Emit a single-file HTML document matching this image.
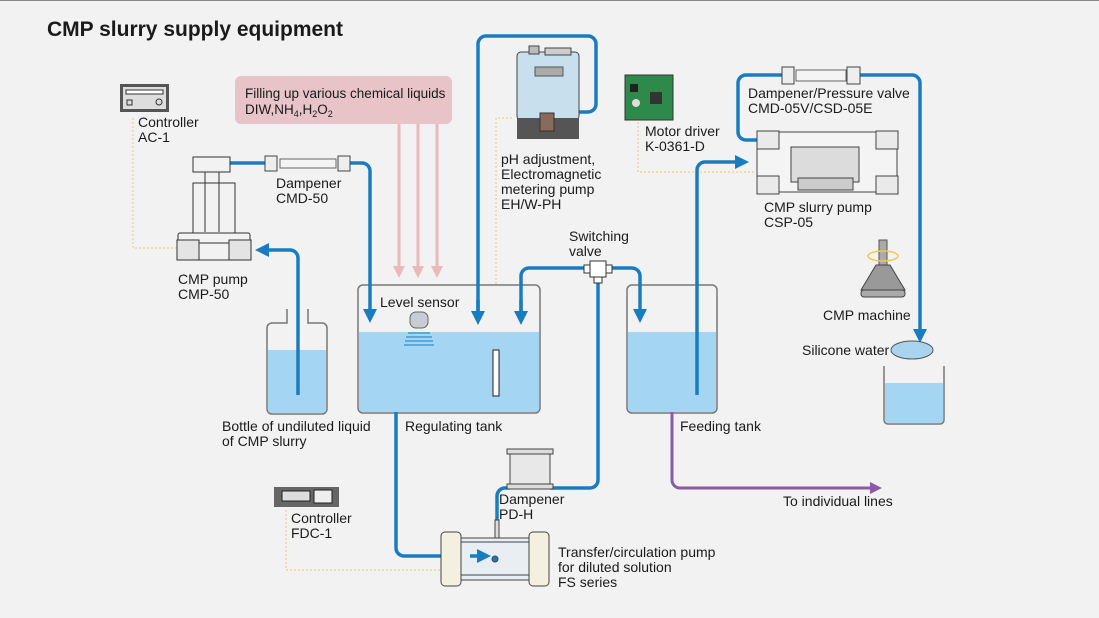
<!DOCTYPE html>
<html><head><meta charset="utf-8"><style>
html,body{margin:0;padding:0;background:#f2f2f2}
svg{display:block}
text{font-family:"Liberation Sans",sans-serif;font-size:14px;fill:#1a1a1a}
</style></head><body>
<svg width="1099" height="618" viewBox="0 0 1099 618" xmlns="http://www.w3.org/2000/svg">
<defs>
<marker id="ab" markerWidth="4" markerHeight="4" refX="2" refY="2" orient="auto" markerUnits="strokeWidth"><path d="M0,0 L4,2 L0,4z" fill="#1a7cc0"/></marker>
<marker id="ap" markerWidth="4" markerHeight="4" refX="2" refY="2" orient="auto" markerUnits="strokeWidth"><path d="M0,0 L4,2 L0,4z" fill="#8a5ca8"/></marker>
<marker id="ak" markerWidth="4" markerHeight="4" refX="2" refY="2" orient="auto" markerUnits="strokeWidth"><path d="M0,0 L4,2 L0,4z" fill="#ebb8bc"/></marker>
</defs>
<rect width="1099" height="618" fill="#f2f2f2"/>
<line x1="0" y1="0.5" x2="1099" y2="0.5" stroke="#888"/>
<text x="47" y="36" style="font-size:21px;font-weight:bold">CMP slurry supply equipment</text>

<!-- pink box -->
<rect x="235" y="76" width="217" height="48" rx="6" fill="#e8c4c8"/>
<text x="245" y="98" style="font-size:13.5px">Filling up various chemical liquids</text>
<text x="245" y="114" style="font-size:13.5px">DIW,NH<tspan dy="3" style="font-size:9px">4</tspan><tspan dy="-3">,H</tspan><tspan dy="3" style="font-size:9px">2</tspan><tspan dy="-3">O</tspan><tspan dy="3" style="font-size:9px">2</tspan></text>
<g stroke="#ebb8bc" stroke-width="3" fill="none">
<line x1="399" y1="124" x2="399" y2="272" marker-end="url(#ak)"/>
<line x1="418" y1="124" x2="418" y2="272" marker-end="url(#ak)"/>
<line x1="437" y1="124" x2="437" y2="272" marker-end="url(#ak)"/>
</g>

<!-- dotted yellow lines -->
<g stroke="#f0d890" stroke-width="1.5" stroke-dasharray="2,2" fill="none">
<path d="M133,118 V248 H178"/>
<path d="M512,118 H496 V350"/>
<path d="M638,118 V172 H755"/>
<path d="M286,510 V570 H440"/>
</g>

<!-- tanks -->
<rect x="358" y="285" width="182" height="128" rx="5" fill="#f2f2f2" stroke="#777" stroke-width="1.5"/>
<path d="M359,332 H539 V408 a4,4 0 0 1 -4,4 H363 a4,4 0 0 1 -4,-4z" fill="#a4d6f4"/>
<rect x="627" y="285" width="90" height="128" rx="5" fill="#f2f2f2" stroke="#777" stroke-width="1.5"/>
<path d="M628,332 H716 V408 a4,4 0 0 1 -4,4 H632 a4,4 0 0 1 -4,-4z" fill="#a4d6f4"/>
<path d="M287,309 V323 H272 a5,5 0 0 0 -5,5 V409 a5,5 0 0 0 5,5 H322 a5,5 0 0 0 5,-5 V328 a5,5 0 0 0 -5,-5 H308 V309" fill="#f2f2f2" stroke="#777" stroke-width="1.5"/>
<path d="M268,350 H326 V409 a4,4 0 0 1 -4,4 H272 a4,4 0 0 1 -4,-4z" fill="#a4d6f4"/>
<path d="M884,366 V420 a4,4 0 0 0 4,4 H940 a4,4 0 0 0 4,-4 V366" fill="#f2f2f2" stroke="#777" stroke-width="1.5"/>
<path d="M885,383 H943 V420 a3,3 0 0 1 -3,3 H888 a3,3 0 0 1 -3,-3z" fill="#a4d6f4"/>
<rect x="493" y="350" width="6" height="46" fill="#fff" stroke="#222"/>
<rect x="410" y="312" width="18" height="16" rx="6" fill="#c8ccd4" stroke="#666"/>
<g stroke="#1a7cc0" stroke-width="1"><line x1="408" y1="333" x2="430" y2="333"/><line x1="406" y1="337" x2="432" y2="337"/><line x1="405" y1="341" x2="433" y2="341"/><line x1="404" y1="345" x2="434" y2="345"/></g>

<!-- blue pipes -->
<g stroke="#1a7cc0" stroke-width="3.5" fill="none" stroke-linejoin="round">
<path d="M230,163 H265"/>
<path d="M350,163 H362 a8,8 0 0 1 8,8 V316" marker-end="url(#ab)"/>
<path d="M298,395 V258 a8,8 0 0 0 -8,-8 H262" marker-end="url(#ab)"/>
<path d="M478,316 V44 a8,8 0 0 1 8,-8 H588 a8,8 0 0 1 8,8 V104 a8,8 0 0 1 -8,8 H560"/>
<path d="M521,316 V276 a8,8 0 0 1 8,-8 H632 a8,8 0 0 1 8,8 V316" marker-end="url(#ab)"/>
<path d="M598,276 V480 a8,8 0 0 1 -8,8 H550"/>
<path d="M510,488 H505 a8,8 0 0 0 -8,8 V520"/>
<path d="M396,412 V548 a8,8 0 0 0 8,8 H480" marker-end="url(#ab)"/>
<path d="M697,395 V170 a8,8 0 0 1 8,-8 H742" marker-end="url(#ab)"/>
<path d="M757,140 H746 a8,8 0 0 1 -8,-8 V83 a8,8 0 0 1 8,-8 H782"/>
<path d="M860,75 H912 a8,8 0 0 1 8,8 V336" marker-end="url(#ab)"/>
</g>
<path d="M521,300 V318" stroke="#1a7cc0" stroke-width="3.5" marker-end="url(#ab)"/>
<path d="M478,300 V318" stroke="#1a7cc0" stroke-width="3.5" marker-end="url(#ab)"/>
<path d="M672,412 V480 a8,8 0 0 0 8,8 H876" stroke="#8a5ca8" stroke-width="3" fill="none" marker-end="url(#ap)"/>

<!-- switching valve -->
<rect x="590" y="261" width="16" height="16" fill="#fff" stroke="#333"/>
<rect x="584" y="265" width="6" height="8" fill="#fff" stroke="#333"/>
<rect x="606" y="265" width="6" height="8" fill="#fff" stroke="#333"/>
<rect x="594" y="277" width="8" height="6" fill="#fff" stroke="#333"/>

<!-- dampener CMD-50 -->
<rect x="265" y="156" width="12" height="15" fill="#eee" stroke="#444"/>
<rect x="280" y="159" width="56" height="9" fill="#f4f4f4" stroke="#666"/>
<rect x="338" y="156" width="12" height="15" fill="#eee" stroke="#444"/>
<!-- dampener CMD-05V -->
<rect x="782" y="67" width="12" height="17" fill="#eee" stroke="#444"/>
<rect x="796" y="70" width="50" height="11" fill="#f4f4f4" stroke="#666"/>
<rect x="847" y="67" width="13" height="17" fill="#eee" stroke="#444"/>

<!-- CMP pump -->
<g stroke="#333" fill="#f2f2f2">
<rect x="193" y="157" width="37" height="15"/>
<rect x="193" y="183" width="42" height="50"/>
<line x1="205" y1="172" x2="205" y2="232"/><line x1="219" y1="172" x2="219" y2="232"/>
<rect x="178" y="233" width="72" height="10" rx="2"/>
<rect x="177" y="240" width="22" height="20" fill="#e4e4e4"/>
<rect x="229" y="240" width="22" height="20" fill="#e4e4e4"/>
<rect x="199" y="243" width="30" height="17"/>
</g>
<!-- controller AC-1 -->
<rect x="120" y="84" width="49" height="28" fill="#555"/>
<rect x="123" y="87" width="43" height="22" fill="#ddd"/>
<rect x="126" y="90" width="37" height="4" fill="#fff" stroke="#333"/>
<rect x="127" y="100" width="5" height="5" fill="none" stroke="#333"/>
<circle cx="159" cy="102" r="3" fill="none" stroke="#333"/>

<!-- pH pump -->
<rect x="517" y="52" width="62" height="68" rx="4" fill="#c8e0ee" stroke="#444"/>
<rect x="529" y="46" width="10" height="8" fill="#bbb" stroke="#444"/>
<rect x="545" y="48" width="26" height="7" fill="#ccc" stroke="#444"/>
<rect x="535" y="67" width="28" height="9" fill="#aaa" stroke="#555"/>
<rect x="517" y="118" width="62" height="21" fill="#555"/>
<rect x="540" y="113" width="14" height="18" fill="#8a6a5a" stroke="#333"/>

<!-- motor driver -->
<rect x="625" y="75" width="48" height="45" fill="#2e8a4a" stroke="#333"/>
<rect x="630" y="84" width="8" height="8" fill="#222"/>
<rect x="650" y="92" width="12" height="12" fill="#333"/>
<circle cx="636" cy="103" r="4" fill="#ddd"/>

<!-- CSP-05 pump -->
<g stroke="#444" fill="#eaeaea">
<rect x="757" y="132" width="140" height="60" fill="#f4f4f4"/>
<rect x="757" y="131" width="22" height="18"/>
<rect x="876" y="131" width="22" height="18"/>
<rect x="757" y="176" width="22" height="18"/>
<rect x="876" y="176" width="22" height="18"/>
<rect x="791" y="147" width="68" height="35" fill="#dcdcdc"/>
<rect x="798" y="178" width="55" height="12" fill="#ccc"/>
</g>

<!-- CMP machine -->
<rect x="879" y="240" width="8" height="25" fill="#aaa" stroke="#555"/>
<ellipse cx="883" cy="256" rx="15" ry="5" fill="none" stroke="#f0c850" stroke-width="1.5"/>
<path d="M876,265 H890 L905,290 H861z" fill="#999" stroke="#444"/>
<rect x="861" y="290" width="44" height="7" rx="3" fill="#aaa" stroke="#444"/>
<ellipse cx="912" cy="350" rx="21" ry="9" fill="#a8d4f0" stroke="#555"/>

<!-- FDC-1 -->
<rect x="274" y="487" width="65" height="20" fill="#666"/>
<rect x="282" y="491" width="28" height="10" fill="#ddd" stroke="#222"/>
<rect x="314" y="490" width="18" height="13" fill="#eee" stroke="#222"/>

<!-- PD-H dampener -->
<rect x="510" y="452" width="40" height="36" fill="#e8e8e8" stroke="#444"/>
<rect x="507" y="449" width="46" height="5" fill="#ddd" stroke="#444"/>
<rect x="507" y="484" width="46" height="5" fill="#ddd" stroke="#444"/>

<!-- FS pump -->
<g stroke="#444">
<rect x="441" y="532" width="20" height="54" rx="4" fill="#f4f0e0"/>
<rect x="529" y="532" width="20" height="54" rx="4" fill="#f4f0e0"/>
<rect x="461" y="538" width="68" height="42" fill="#e8eef2"/>
<line x1="461" y1="542" x2="529" y2="542"/><line x1="461" y1="575" x2="529" y2="575"/>
<rect x="495" y="520" width="4" height="18" fill="#ddd"/>
<circle cx="495" cy="559" r="3" fill="#1a7cc0"/>
</g>
<path d="M470,556 H484" stroke="#1a7cc0" stroke-width="3.5" marker-end="url(#ab)"/>

<!-- labels -->
<text x="138" y="127">Controller</text><text x="138" y="142">AC-1</text>
<text x="276" y="188">Dampener</text><text x="276" y="203">CMD-50</text>
<text x="178" y="284">CMP pump</text><text x="178" y="299">CMP-50</text>
<text x="222" y="431">Bottle of undiluted liquid</text><text x="222" y="446">of CMP slurry</text>
<text x="380" y="307">Level sensor</text>
<text x="405" y="431">Regulating tank</text>
<text x="501" y="164">pH adjustment,</text><text x="501" y="179">Electromagnetic</text><text x="501" y="194">metering pump</text><text x="501" y="209">EH/W-PH</text>
<text x="645" y="136">Motor driver</text><text x="645" y="151">K-0361-D</text>
<text x="748" y="98">Dampener/Pressure valve</text><text x="748" y="113">CMD-05V/CSD-05E</text>
<text x="764" y="212">CMP slurry pump</text><text x="764" y="227">CSP-05</text>
<text x="569" y="241">Switching</text><text x="569" y="256">valve</text>
<text x="823" y="320">CMP machine</text>
<text x="802" y="355">Silicone water</text>
<text x="680" y="431">Feeding tank</text>
<text x="783" y="506">To individual lines</text>
<text x="499" y="504">Dampener</text><text x="499" y="519">PD-H</text>
<text x="291" y="523">Controller</text><text x="291" y="538">FDC-1</text>
<text x="558" y="557">Transfer/circulation pump</text><text x="558" y="572">for diluted solution</text><text x="558" y="587">FS series</text>
</svg>
</body></html>
